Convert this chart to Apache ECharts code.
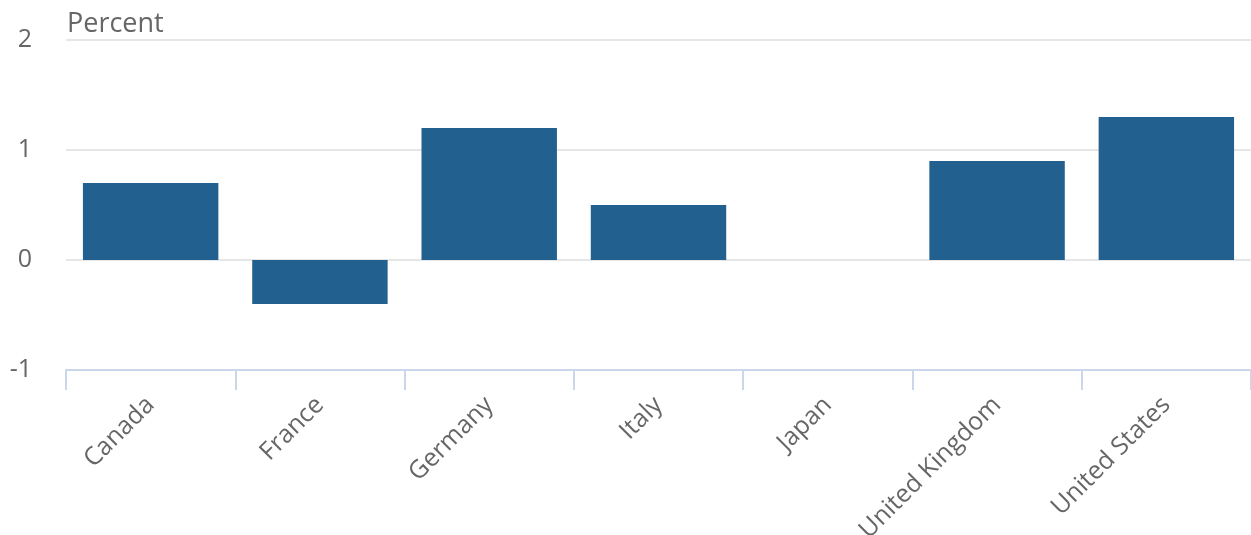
<!DOCTYPE html>
<html><head><meta charset="utf-8">
<script src="https://cdn.jsdelivr.net/npm/echarts@6/dist/echarts.min.js"></script>
<style>html,body{margin:0;padding:0;background:#fff}#c{width:1251px;height:535px}</style>
</head><body><div id="c"></div>
<script>
const categories = ["Canada","France","Germany","Italy","Japan","United Kingdom","United States"];
const values = [0.7, -0.4, 1.2, 0.5, 0, 0.9, 1.3];
const yTicks = [-1, 0, 1, 2];
const yTitle = "Percent";
const chart = echarts.init(document.getElementById('c'), null, {renderer:'canvas'});
chart.setOption({
  animation:false,
  textStyle:{fontFamily:'Open Sans'},
  title:{text:yTitle,left:62,top:6,textStyle:{fontFamily:'Open Sans',fontSize:27,fontWeight:'normal',color:'#666666'}},
  grid:{left:66,right:0,top:40,bottom:165,containLabel:false,outerBoundsMode:'none'},
  xAxis:{type:'category',data:categories,
    axisLine:{show:true,onZero:false,lineStyle:{color:'#ccd6eb',width:2}},
    axisTick:{show:true,length:20,lineStyle:{color:'#ccd6eb',width:2}},
    axisLabel:{rotate:45,margin:31,fontSize:25,color:'#666666',fontFamily:'Open Sans',interval:0}},
  yAxis:{type:'value',min:yTicks[0],max:yTicks[yTicks.length-1],interval:1,
    axisLine:{show:false},axisTick:{show:false},
    splitLine:{lineStyle:{color:'#e6e6e6',width:2}},
    axisLabel:{fontSize:25,color:'#666666',margin:34,fontFamily:'Open Sans'}},
  series:[{type:'bar',data:values,barCategoryGap:'20%',
    itemStyle:{color:'#22608f'}}]
});
</script></body></html>
